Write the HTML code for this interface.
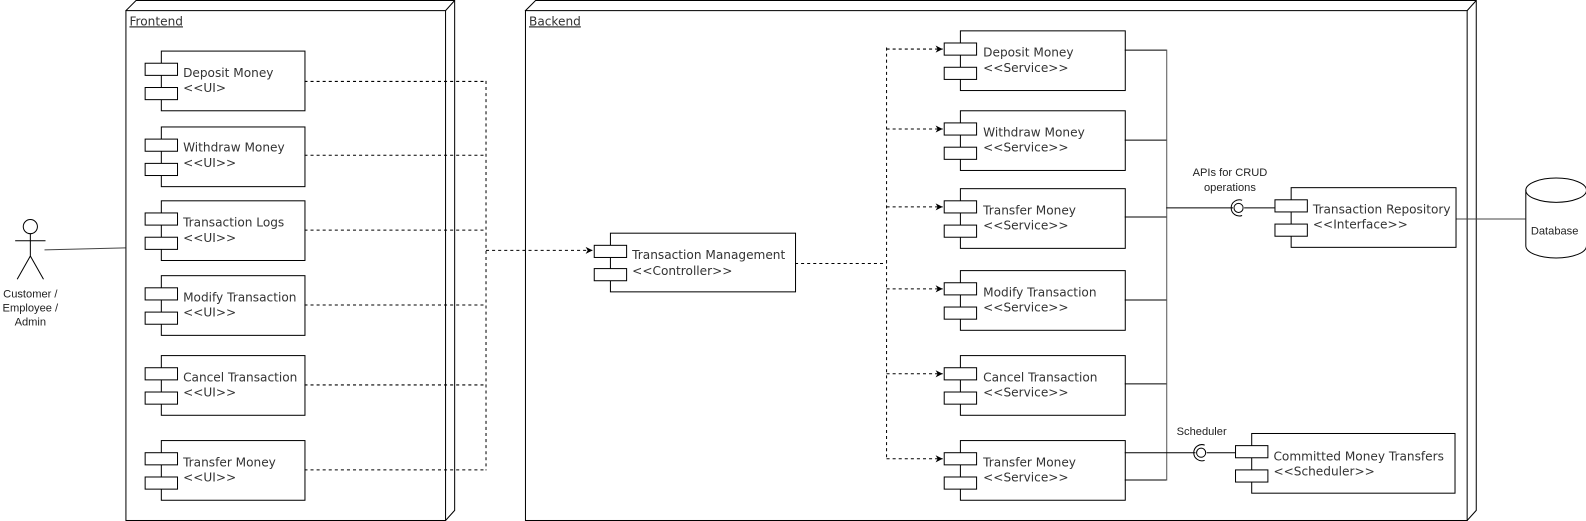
<!DOCTYPE html>
<html><head><meta charset="utf-8"><style>
html,body{margin:0;padding:0;background:#fff;}
svg{display:block;}
.t{font-family:"DejaVu Sans",Verdana,sans-serif;font-size:12px;fill:#333;}
.s{font-family:"Liberation Sans",Arial,sans-serif;font-size:11px;fill:#222;}
</style></head><body>
<svg width="1586" height="521" viewBox="0 0 1568 515" preserveAspectRatio="none" xmlns="http://www.w3.org/2000/svg">
<defs>
<marker id="a" markerWidth="8" markerHeight="8" refX="7" refY="4" orient="auto" markerUnits="userSpaceOnUse">
<path d="M0,0.5 L7,4 L0,7.5 L2,4 Z" fill="#000"/></marker>
</defs>
<g fill="#fff" stroke="#000" stroke-width="1">
<path d="M124.5,10.5 L134.5,0.5 L449.5,0.5 L449.5,504.5 L440.5,514.5 Z"/>
<path d="M440.5,10.5 L449.5,0.5" fill="none"/>
<rect x="124.5" y="10.5" width="316" height="504"/>
<path d="M519.5,10.5 L529.5,0.5 L1459.5,0.5 L1459.5,504.5 L1450.5,514.5 Z"/>
<path d="M1450.5,10.5 L1459.5,0.5" fill="none"/>
<rect x="519.5" y="10.5" width="931" height="504"/>
</g>
<text x="128" y="25" class="t" text-decoration="underline">Frontend</text>
<text x="523" y="25" class="t" text-decoration="underline">Backend</text>

<g stroke="#000" fill="none">
<circle cx="30" cy="224" r="7" fill="#fff"/>
<path d="M30,231 V253 M15,238 H45 M30,253 L17,276 M30,253 L43,276"/>
<path d="M44,247 L124,245" stroke="#444"/>
</g>
<text class="s" text-anchor="middle"><tspan x="30" y="294">Customer /</tspan><tspan x="30" y="308">Employee /</tspan><tspan x="30" y="322">Admin</tspan></text>

<g stroke="#000" fill="#fff">
<rect x="159.5" y="50.5" width="142" height="59"/><rect x="143.5" y="62.5" width="32" height="12"/><rect x="143.5" y="86.5" width="32" height="12"/>
<rect x="159.5" y="125.5" width="142" height="59"/><rect x="143.5" y="137.5" width="32" height="12"/><rect x="143.5" y="161.5" width="32" height="12"/>
<rect x="159.5" y="198.5" width="142" height="59"/><rect x="143.5" y="210.5" width="32" height="12"/><rect x="143.5" y="234.5" width="32" height="12"/>
<rect x="159.5" y="272.5" width="142" height="59"/><rect x="143.5" y="284.5" width="32" height="12"/><rect x="143.5" y="308.5" width="32" height="12"/>
<rect x="159.5" y="351.5" width="142" height="59"/><rect x="143.5" y="363.5" width="32" height="12"/><rect x="143.5" y="387.5" width="32" height="12"/>
<rect x="159.5" y="435.5" width="142" height="59"/><rect x="143.5" y="447.5" width="32" height="12"/><rect x="143.5" y="471.5" width="32" height="12"/>
</g>
<g class="t">
<text x="181" y="76">Deposit Money</text><text x="181" y="91">&lt;&lt;UI&gt;</text>
<text x="181" y="150">Withdraw Money</text><text x="181" y="165">&lt;&lt;UI&gt;&gt;</text>
<text x="181" y="224">Transaction Logs</text><text x="181" y="239">&lt;&lt;UI&gt;&gt;</text>
<text x="181" y="298">Modify Transaction</text><text x="181" y="313">&lt;&lt;UI&gt;&gt;</text>
<text x="181" y="377">Cancel Transaction</text><text x="181" y="392">&lt;&lt;UI&gt;&gt;</text>
<text x="181" y="461">Transfer Money</text><text x="181" y="476">&lt;&lt;UI&gt;&gt;</text>
</g>
<g stroke="#000" fill="none" stroke-dasharray="3,3">
<path d="M301,80.5 H480.5 M301,153.5 H480.5 M301,227.5 H480.5 M301,301.5 H480.5 M301,380.5 H480.5 M301,464.5 H480.5 M480.5,80 V465"/>
<path d="M480.5,247.5 H586" marker-end="url(#a)"/>
</g>

<g stroke="#000" fill="#fff">
<rect x="603.5" y="230.5" width="183" height="58"/><rect x="587.5" y="242.5" width="32" height="12"/><rect x="587.5" y="265.5" width="32" height="12"/>
</g>
<text class="t" x="625" y="256">Transaction Management</text><text class="t" x="625" y="272">&lt;&lt;Controller&gt;&gt;</text>
<g stroke="#000" fill="none" stroke-dasharray="3,3">
<path d="M786,260.5 H876.5 M876.5,47 V455"/>
<path d="M876.5,48.5 H932" marker-end="url(#a)"/>
<path d="M876.5,127.5 H932" marker-end="url(#a)"/>
<path d="M876.5,204.5 H932" marker-end="url(#a)"/>
<path d="M876.5,285.5 H932" marker-end="url(#a)"/>
<path d="M876.5,369.5 H932" marker-end="url(#a)"/>
<path d="M876.5,453.5 H932" marker-end="url(#a)"/>
</g>

<g stroke="#000" fill="#fff">
<rect x="949.5" y="30.5" width="163" height="59"/><rect x="933.5" y="42.5" width="32" height="12"/><rect x="933.5" y="66.5" width="32" height="12"/>
<rect x="949.5" y="109.5" width="163" height="59"/><rect x="933.5" y="121.5" width="32" height="12"/><rect x="933.5" y="145.5" width="32" height="12"/>
<rect x="949.5" y="186.5" width="163" height="59"/><rect x="933.5" y="198.5" width="32" height="12"/><rect x="933.5" y="222.5" width="32" height="12"/>
<rect x="949.5" y="267.5" width="163" height="59"/><rect x="933.5" y="279.5" width="32" height="12"/><rect x="933.5" y="303.5" width="32" height="12"/>
<rect x="949.5" y="351.5" width="163" height="59"/><rect x="933.5" y="363.5" width="32" height="12"/><rect x="933.5" y="387.5" width="32" height="12"/>
<rect x="949.5" y="435.5" width="163" height="59"/><rect x="933.5" y="447.5" width="32" height="12"/><rect x="933.5" y="471.5" width="32" height="12"/>
</g>
<g class="t">
<text x="972" y="56">Deposit Money</text><text x="972" y="71">&lt;&lt;Service&gt;&gt;</text>
<text x="972" y="135">Withdraw Money</text><text x="972" y="150">&lt;&lt;Service&gt;&gt;</text>
<text x="972" y="212">Transfer Money</text><text x="972" y="227">&lt;&lt;Service&gt;&gt;</text>
<text x="972" y="293">Modify Transaction</text><text x="972" y="308">&lt;&lt;Service&gt;&gt;</text>
<text x="972" y="377">Cancel Transaction</text><text x="972" y="392">&lt;&lt;Service&gt;&gt;</text>
<text x="972" y="461">Transfer Money</text><text x="972" y="476">&lt;&lt;Service&gt;&gt;</text>
</g>
<g stroke="#000" fill="none">
<path d="M1112,49.5 H1153.5 M1112,138.5 H1153.5 M1112,214.5 H1153.5 M1112,296.5 H1153.5 M1112,379.5 H1153.5 M1112,474.5 H1153.5"/>
<path d="M1153.5,49 V475" stroke="#555"/>
<path d="M1153,205.5 H1219 M1230,205.5 H1260"/>
<circle cx="1224.5" cy="205.5" r="4.5"/>
<path d="M1228,198 A8,8 0 1,0 1228,213"/>
<path d="M1112,447.5 H1182 M1193,447.5 H1221"/>
<circle cx="1187.5" cy="447.5" r="4.5"/>
<path d="M1191,440 A8,8 0 1,0 1191,455"/>
<path d="M1439,216.5 H1508" stroke="#444"/>
</g>
<text class="s" text-anchor="middle"><tspan x="1216" y="174">APIs for CRUD</tspan><tspan x="1216" y="189">operations</tspan></text>
<text class="s" x="1188" y="430" text-anchor="middle">Scheduler</text>

<g stroke="#000" fill="#fff">
<rect x="1276.5" y="185.5" width="163" height="59"/><rect x="1260.5" y="197.5" width="32" height="12"/><rect x="1260.5" y="221.5" width="32" height="12"/>
<rect x="1237.5" y="428.5" width="201" height="59"/><rect x="1221.5" y="440.5" width="32" height="12"/><rect x="1221.5" y="464.5" width="32" height="12"/>
</g>
<text class="t" x="1298" y="211">Transaction Repository</text><text class="t" x="1298" y="226">&lt;&lt;Interface&gt;&gt;</text>
<text class="t" x="1259" y="455">Committed Money Transfers</text><text class="t" x="1259" y="470">&lt;&lt;Scheduler&gt;&gt;</text>

<g stroke="#000" fill="#fff">
<path d="M1508.5,188 A30,12 0 0,1 1568.5,188 V243 A30,12 0 0,1 1508.5,243 Z"/>
<path d="M1508.5,188 A30,12 0 0,0 1568.5,188" fill="none"/>
</g>
<text class="s" x="1537" y="232" text-anchor="middle">Database</text>
</svg>
</body></html>
